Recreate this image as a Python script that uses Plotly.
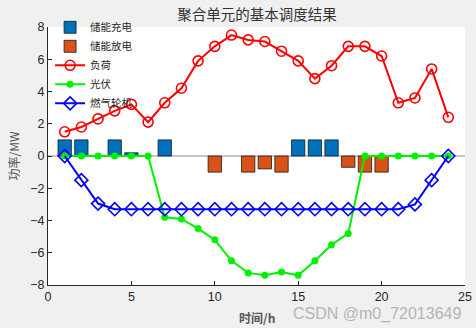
import plotly.graph_objects as go

# Hourly dispatch results of the aggregated unit (MW)
hours = list(range(1, 25))
charge = [1, 1, None, 1, 0.2, None, 1, None, None, None, None, None,
          None, None, 1, 1, 1, None, None, None, None, None, None, None]
discharge = [None, None, None, None, None, None, None, None, None, -1, None, -1,
             -0.8, -1, None, None, None, -0.7, -1, -1, None, None, None, None]
load = [1.5, 1.8, 2.3, 2.8, 3.2, 2.1, 3.3, 4.2, 5.9, 6.8, 7.5, 7.2,
        7.1, 6.5, 5.9, 4.8, 5.6, 6.8, 6.8, 6.2, 3.3, 3.6, 5.4, 2.4]
pv = [0, 0, 0, 0, 0, 0, -3.8, -3.9, -4.5, -5.2, -6.5, -7.25,
      -7.4, -7.2, -7.4, -6.5, -5.5, -4.8, 0, 0, 0, 0, 0, 0]
gas = [0, -1.5, -2.95, -3.3, -3.3, -3.3, -3.3, -3.3, -3.3, -3.3, -3.3, -3.3,
       -3.3, -3.3, -3.3, -3.3, -3.3, -3.3, -3.3, -3.3, -3.3, -3.0, -1.5, 0]

x_ticks = [0, 5, 10, 15, 20, 25]
y_ticks = [-8, -6, -4, -2, 0, 2, 4, 6, 8]

font_cjk = "Noto Sans CJK SC"
font_num = "Liberation Sans"

fig = go.Figure()

fig.add_trace(go.Bar(x=hours, y=charge, width=0.8, name="储能充电",
                     marker=dict(color="#0072BD", line=dict(color="#1a1a1a", width=0.8))))
fig.add_trace(go.Bar(x=hours, y=discharge, width=0.8, name="储能放电",
                     marker=dict(color="#D95319", line=dict(color="#1a1a1a", width=0.8))))
fig.add_trace(go.Scatter(x=hours, y=load, mode="lines+markers", name="负荷",
                         line=dict(color="#FF0000", width=2),
                         marker=dict(symbol="circle-open", size=10, color="#FF0000",
                                     line=dict(width=1.6, color="#FF0000"))))
fig.add_trace(go.Scatter(x=hours, y=pv, mode="lines+markers", name="光伏",
                         line=dict(color="#00F000", width=2),
                         marker=dict(symbol="circle", size=7, color="#00F000")))
fig.add_trace(go.Scatter(x=hours, y=gas, mode="lines+markers", name="燃气轮机",
                         line=dict(color="#0000FF", width=2),
                         marker=dict(symbol="diamond-open", size=10, color="#0000FF",
                                     line=dict(width=1.6, color="#0000FF"))))

# bar baseline
fig.add_shape(type="line", xref="x", yref="y", x0=0, x1=25, y0=0, y1=0,
              line=dict(color="#8c8c8c", width=1.2), layer="below")

axis_common = dict(showline=True, linecolor="#262626", linewidth=1,
                   ticks="inside", ticklen=4, tickcolor="#262626",
                   showgrid=False, zeroline=False, mirror=False, automargin=False,
                   tickfont=dict(family=font_num, size=12.5, color="#262626"))

fig.update_layout(
    width=476, height=328,
    margin=dict(l=48, r=11, t=27, b=43),
    paper_bgcolor="#f0f0f0", plot_bgcolor="#ffffff",
    barmode="overlay",
    title=dict(text="聚合单元的基本调度结果", x=0.54, xanchor="center", y=0.955, yanchor="middle",
               font=dict(family=font_cjk, size=14.5, color="#333333")),
    xaxis=dict(range=[0, 25], tickvals=x_ticks, **axis_common),
    yaxis=dict(range=[-8, 8], tickvals=y_ticks, **axis_common),
    legend=dict(x=0.005, y=1.055, xanchor="left", yanchor="top",
                bgcolor="rgba(0,0,0,0)", borderwidth=0, tracegroupgap=0,
                font=dict(family=font_cjk, size=10.5, color="#262626")),
    showlegend=True,
)

# axis titles
fig.add_annotation(text="<b>时间/h</b>", xref="paper", yref="paper",
                   x=0.5, y=-0.125, xanchor="center", yanchor="middle", showarrow=False,
                   font=dict(family=font_cjk, size=12, color="#555555"))
fig.add_annotation(text="功率/MW", xref="paper", yref="paper", textangle=-90,
                   x=-0.083, y=0.5, xanchor="center", yanchor="middle", showarrow=False,
                   font=dict(family=font_cjk, size=12, color="#555555"))

fig.add_annotation(text="CSDN @m0_72013649", xref="paper", yref="paper",
                   x=0.995, y=-0.112, xanchor="right", yanchor="middle", showarrow=False,
                   font=dict(family=font_num, size=16, color="#b5b5b5"))

fig.write_html("out.html")
